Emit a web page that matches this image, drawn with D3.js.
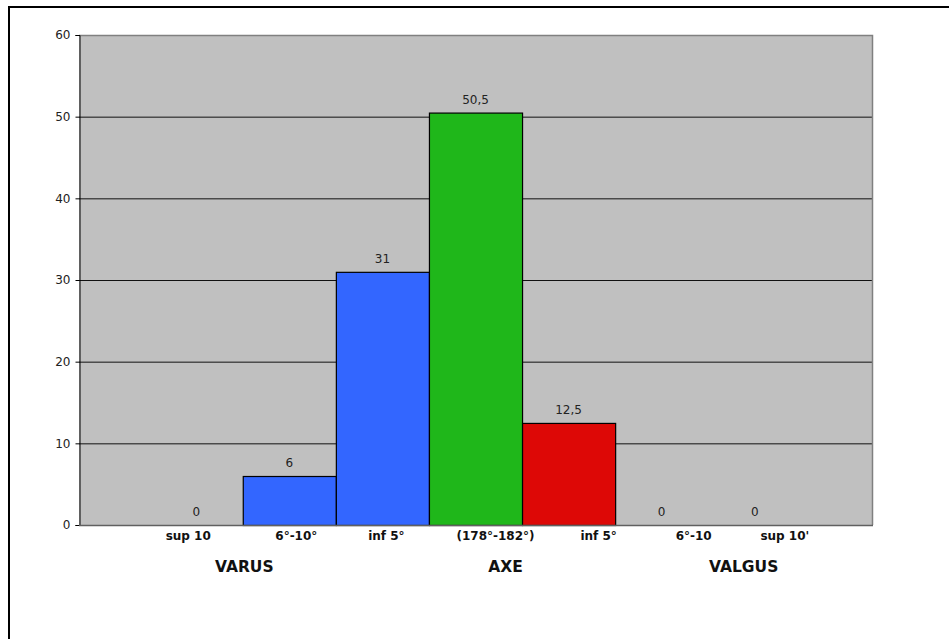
<!DOCTYPE html>
<html>
<head>
<meta charset="utf-8">
<script src="https://cdn.jsdelivr.net/npm/d3@7"></script>
<style>
  html, body { margin: 0; padding: 0; background: #fff; }
  svg { display: block; }
</style>
</head>
<body>
<svg id="chart" width="949" height="639"></svg>
<script>
// Angular deviation categories and the share (%) of knees in each
const categories = ["sup 10", "6°-10°", "inf 5°", "(178°-182°)", "inf 5°", "6°-10", "sup 10'"];
const values = [0, 6, 31, 50.5, 12.5, 0, 0];
const groupOf = ["VARUS", "VARUS", "VARUS", "AXE", "VALGUS", "VALGUS", "VALGUS"];
const groups = ["VARUS", "AXE", "VALGUS"];
const yTicks = [0, 10, 20, 30, 40, 50, 60];

// Layout
const plot = { left: 79, top: 35, right: 872, bottom: 525 };
const fillOf = { VARUS: "#3366ff", AXE: "#1fb71a", VALGUS: "#dd0806" };
// small horizontal nudges of the category captions relative to their bars
const captionNudge = [-8, 7, 4, 20, 30, 32, 30];
// group titles: anchor category index and nudge
const groupAnchor = { VARUS: [1, -45], AXE: [3, 30], VALGUS: [5, 82] };

const svg = d3.select("#chart");
const fmt = v => String(v).replace(".", ",");

// outer frame
svg.append("rect")
  .attr("x", 9).attr("y", 7)
  .attr("width", 960).attr("height", 660)
  .attr("fill", "none").attr("stroke", "#000").attr("stroke-width", 2);

const x = d3.scaleBand()
  .domain(d3.range(categories.length))
  .range([plot.left, plot.right])
  .paddingInner(0)
  .paddingOuter(0.759);

const y = d3.scaleLinear().domain([0, 60]).range([plot.bottom, plot.top]);

// plot background
svg.append("rect")
  .attr("x", plot.left).attr("y", plot.top)
  .attr("width", plot.right - plot.left).attr("height", plot.bottom - plot.top)
  .attr("fill", "#c0c0c0");

// gridlines
svg.append("g")
  .selectAll("line")
  .data(yTicks.filter(t => t > 0 && t < 60))
  .join("line")
  .attr("x1", plot.left).attr("x2", plot.right)
  .attr("y1", d => y(d) + 0.5).attr("y2", d => y(d) + 0.5)
  .attr("stroke", "#111").attr("stroke-width", 1);

// plot border (top/right in grey)
svg.append("path")
  .attr("d", `M${plot.left},${plot.top + 0.5}H${plot.right + 0.5}V${plot.bottom}`)
  .attr("fill", "none").attr("stroke", "#808080").attr("stroke-width", 1.5);

// bars (zero-height categories are not drawn)
svg.append("g")
  .selectAll("rect")
  .data(values)
  .join("rect")
  .attr("display", d => d > 0 ? null : "none")
  .attr("x", (d, i) => x(i) + 0.5)
  .attr("y", d => y(d) + 0.5)
  .attr("width", x.bandwidth())
  .attr("height", d => y(0) - y(d))
  .attr("fill", (d, i) => fillOf[groupOf[i]])
  .attr("stroke", "#000").attr("stroke-width", 1.2);

// value labels
svg.append("g")
  .selectAll("text")
  .data(values)
  .join("text")
  .attr("x", (d, i) => x(i) + x.bandwidth() / 2)
  .attr("y", d => y(d) - 9)
  .attr("text-anchor", "middle")
  .attr("font-family", "DejaVu Sans, Verdana, sans-serif")
  .attr("font-size", 12)
  .attr("fill", "#222")
  .text(d => fmt(d));

// y axis
const yAxis = d3.axisLeft(y).tickValues(yTicks).tickSize(4).tickPadding(5);
const gy = svg.append("g").attr("transform", `translate(${plot.left + 0.5},0)`).call(yAxis);
gy.select(".domain").attr("stroke", "#000");
gy.selectAll(".tick line").attr("stroke", "#000");
gy.selectAll(".tick text")
  .attr("font-family", "DejaVu Sans, Verdana, sans-serif")
  .attr("font-size", 12).attr("fill", "#222");

// baseline
svg.append("line")
  .attr("x1", plot.left).attr("x2", plot.right + 1)
  .attr("y1", plot.bottom + 0.5).attr("y2", plot.bottom + 0.5)
  .attr("stroke", "#606060").attr("stroke-width", 1.5);

// category captions
svg.append("g")
  .selectAll("text")
  .data(categories)
  .join("text")
  .attr("x", (d, i) => x(i) + x.bandwidth() / 2 + captionNudge[i])
  .attr("y", 540)
  .attr("text-anchor", "middle")
  .attr("font-family", "DejaVu Sans, Verdana, sans-serif")
  .attr("font-size", 12).attr("font-weight", "bold")
  .attr("fill", "#111")
  .text(d => d);

// group titles
svg.append("g")
  .selectAll("text")
  .data(groups)
  .join("text")
  .attr("x", g => x(groupAnchor[g][0]) + x.bandwidth() / 2 + groupAnchor[g][1])
  .attr("y", 572)
  .attr("text-anchor", "middle")
  .attr("font-family", "DejaVu Sans, Verdana, sans-serif")
  .attr("font-size", 15.5).attr("font-weight", "bold")
  .attr("fill", "#111")
  .text(g => g);
</script>
</body>
</html>
